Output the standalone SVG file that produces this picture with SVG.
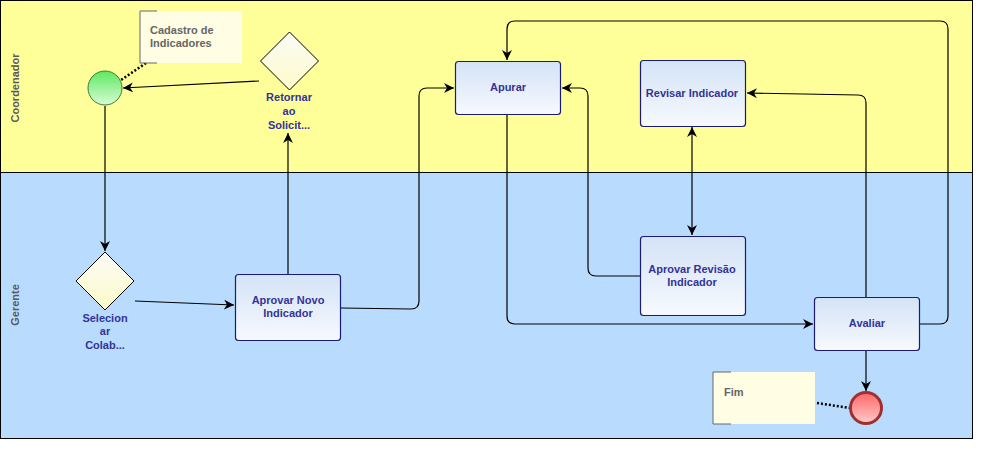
<svg xmlns="http://www.w3.org/2000/svg" width="983" height="473" viewBox="0 0 983 473">
<style>
.lane{font-family:"Liberation Sans",Arial,sans-serif;font-size:11px;font-weight:bold;fill:#5a5a5a}
.lbl{font-family:"Liberation Sans",Arial,sans-serif;font-size:11px;font-weight:bold;fill:#333399;text-anchor:middle}
.ann{font-family:"Liberation Sans",Arial,sans-serif;font-size:11px;font-weight:bold;fill:#666666}
.task{fill:url(#tg);stroke:#1b1b72;stroke-width:1.2}
.gw{fill:url(#gg);stroke:#000;stroke-width:1}
.c{fill:none;stroke:#000;stroke-width:1.2}
.dot{fill:none;stroke:#000;stroke-width:2.5;stroke-dasharray:2,2}
.annbox{fill:#fffde3}
.brk{fill:none;stroke:#666;stroke-width:1}
</style>
<defs>
<linearGradient id="tg" x1="0" y1="0" x2="0" y2="1"><stop offset="0" stop-color="#d3e3f6"/><stop offset="1" stop-color="#f7f9fe"/></linearGradient>
<linearGradient id="gg" x1="0" y1="0" x2="0" y2="1"><stop offset="0" stop-color="#fbfbf8"/><stop offset="1" stop-color="#fdfbc8"/></linearGradient>
<linearGradient id="sg" x1="0" y1="0" x2="0" y2="1"><stop offset="0" stop-color="#5fe860"/><stop offset="1" stop-color="#d7fcd5"/></linearGradient>
<linearGradient id="eg" x1="0" y1="0" x2="0" y2="1"><stop offset="0" stop-color="#ff6666"/><stop offset="1" stop-color="#ffcccc"/></linearGradient>
<marker id="ar" viewBox="0 0 10 10" refX="10" refY="5" markerWidth="10" markerHeight="10" markerUnits="userSpaceOnUse" orient="auto-start-reverse"><path d="M0,0 L10,5 L0,10 L3,5 Z" fill="#000"/></marker>
</defs>

<g id="pool">
<rect x="0.5" y="0.5" width="972" height="172" fill="#ffff99" stroke="#000" stroke-width="1"/>
<rect x="0.5" y="172.5" width="972" height="266" fill="#b9dcfe" stroke="#000" stroke-width="1"/>
<text class="lane" transform="translate(19,88) rotate(-90)" text-anchor="middle">Coordenador</text>
<text class="lane" transform="translate(19,305) rotate(-90)" text-anchor="middle">Gerente</text>
</g>

<g id="connectors">
<path class="dot" d="M146,63 L121,80"/>
<path class="dot" d="M817,403 L850,408"/>
<path class="c" d="M259,81 L123,88" marker-end="url(#ar)"/>
<path class="c" d="M105,106 L105,251" marker-end="url(#ar)"/>
<path class="c" d="M135,301 L234,305" marker-end="url(#ar)"/>
<path class="c" d="M288,274 L288,133" marker-end="url(#ar)"/>
<path class="c" d="M341,308 L411,309 Q419,309 419,301 L419,96 Q419,88 427,88 L454,88" marker-end="url(#ar)"/>
<path class="c" d="M920,324 L940,324 Q948,324 948,316 L948,29 Q948,21 940,21 L515,21 Q507,21 507,29 L507,60" marker-end="url(#ar)"/>
<path class="c" d="M507,114 L507,316 Q507,324 515,324 L813,324" marker-end="url(#ar)"/>
<path class="c" d="M692,127 L692,235" marker-start="url(#ar)" marker-end="url(#ar)"/>
<path class="c" d="M640,276 L596,276 Q588,276 588,268 L588,96 Q588,88 580,88 L562,88" marker-end="url(#ar)"/>
<path class="c" d="M866,297 L866,103 Q866,95 858,95 L747,93" marker-end="url(#ar)"/>
<path class="c" d="M866,351 L866,391" marker-end="url(#ar)"/>
</g>

<g id="ann-cadastro">
<rect class="annbox" x="140" y="11" width="102" height="52"/>
<path class="brk" d="M157,11 L140,11 L140,63 L157,63"/>
<text class="ann" x="150" y="34">Cadastro de</text>
<text class="ann" x="150" y="47">Indicadores</text>
</g>

<g id="start">
<circle cx="105" cy="88" r="17" fill="url(#sg)" stroke="#3d7a3d" stroke-width="1"/>
</g>

<g id="gw-retornar">
<path class="gw" d="M289.5,32 L318.5,61 L289.5,90 L260.5,61 Z"/>
<text class="lbl" x="289" y="101">Retornar</text>
<text class="lbl" x="289" y="115">ao</text>
<text class="lbl" x="289" y="129">Solicit...</text>
</g>

<g id="gw-selecionar">
<path class="gw" d="M105,252 L134,281 L105,310 L76,281 Z"/>
<text class="lbl" x="105" y="322">Selecion</text>
<text class="lbl" x="105" y="335">ar</text>
<text class="lbl" x="105" y="349">Colab...</text>
</g>

<g id="task-aprovar-novo">
<rect class="task" x="235.5" y="274.5" width="105" height="66" rx="3"/>
<text class="lbl" x="288" y="304">Aprovar Novo</text>
<text class="lbl" x="288" y="317">Indicador</text>
</g>

<g id="task-apurar">
<rect class="task" x="455.5" y="61.5" width="105" height="53" rx="3"/>
<text class="lbl" x="508" y="91">Apurar</text>
</g>

<g id="task-revisar">
<rect class="task" x="640.5" y="60.5" width="105" height="66" rx="3"/>
<text class="lbl" x="692" y="97">Revisar Indicador</text>
</g>

<g id="task-aprovar-revisao">
<rect class="task" x="640.5" y="236.5" width="105" height="79" rx="3"/>
<text class="lbl" x="692" y="273">Aprovar Revisão</text>
<text class="lbl" x="692" y="286">Indicador</text>
</g>

<g id="task-avaliar">
<rect class="task" x="814.5" y="297.5" width="105" height="53" rx="3"/>
<text class="lbl" x="867" y="327">Avaliar</text>
</g>

<g id="end">
<circle cx="866" cy="408" r="15.5" fill="url(#eg)" stroke="#a03030" stroke-width="3"/>
</g>

<g id="ann-fim">
<rect class="annbox" x="713" y="372" width="102" height="52"/>
<path class="brk" d="M731,372 L713,372 L713,424 L731,424"/>
<text class="ann" x="724" y="396">Fim</text>
</g>
</svg>
